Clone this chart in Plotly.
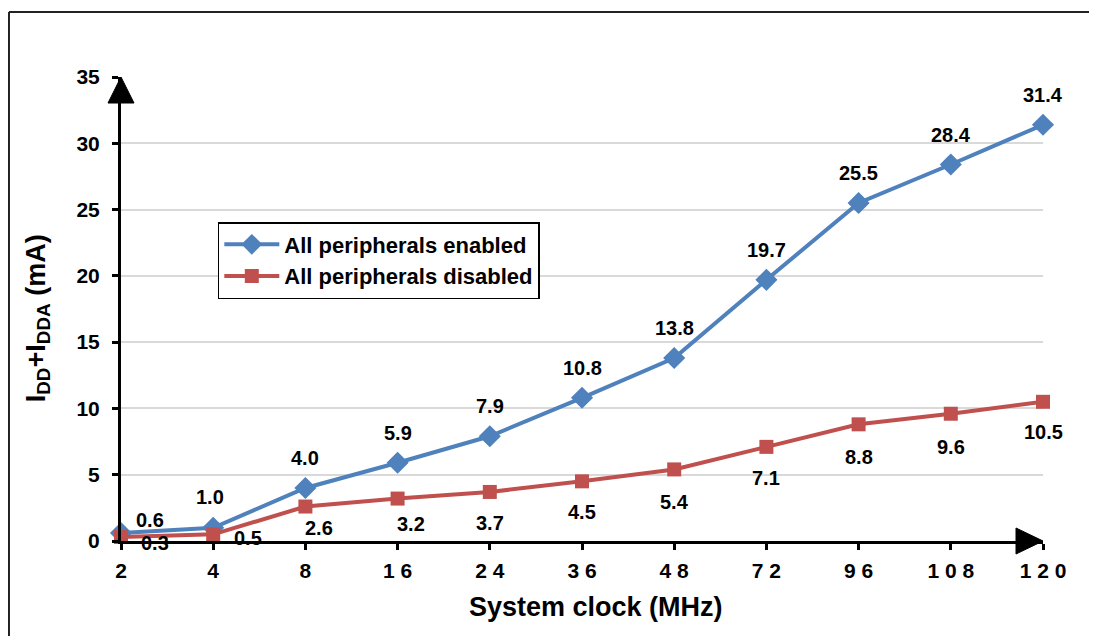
import plotly.graph_objects as go

# ---- data ----
categories = ["2", "4", "8", "16", "24", "36", "48", "72", "96", "108", "120"]
tick_labels = ["2", "4", "8", "1 6", "2 4", "3 6", "4 8", "7 2", "9 6", "1 0 8", "1 2 0"]
enabled = [0.6, 1.0, 4.0, 5.9, 7.9, 10.8, 13.8, 19.7, 25.5, 28.4, 31.4]
disabled = [0.3, 0.5, 2.6, 3.2, 3.7, 4.5, 5.4, 7.1, 8.8, 9.6, 10.5]
series_names = ["All peripherals enabled", "All peripherals disabled"]
y_ticks = [0, 5, 10, 15, 20, 25, 30, 35]

# label offsets (pixels) – style only
en_shift = [(29, 13), (-3, 31)] + [(0, 30)] * 9
dis_shift = [(34, -6), (35, -4), (14, -21), (13, -25), (0, -31), (0, -31),
             (0, -33), (0, -31), (0, -33), (0, -33), (0, -30)]

BLUE = "#4F81BD"
RED = "#C0504D"
FONT = "Liberation Sans, Arial, sans-serif"

fig = go.Figure()
fig.add_trace(go.Scatter(
    x=categories, y=enabled, name=series_names[0], mode="lines+markers",
    line=dict(color=BLUE, width=4),
    marker=dict(symbol="diamond", size=17, color=BLUE),
    cliponaxis=False))
fig.add_trace(go.Scatter(
    x=categories, y=disabled, name=series_names[1], mode="lines+markers",
    line=dict(color=RED, width=4),
    marker=dict(symbol="square", size=14, color=RED),
    cliponaxis=False))

lab_font = dict(family=FONT, size=20, color="black", weight="bold")
annotations = []
for i, (v, (dx, dy)) in enumerate(zip(enabled, en_shift)):
    annotations.append(dict(x=i, y=v, text=f"{v:.1f}", showarrow=False,
                            xshift=dx, yshift=dy, font=lab_font))
for i, (v, (dx, dy)) in enumerate(zip(disabled, dis_shift)):
    annotations.append(dict(x=i, y=v, text=f"{v:.1f}", showarrow=False,
                            xshift=dx, yshift=dy, font=lab_font))

# axis titles
annotations.append(dict(xref="paper", yref="paper", x=0.515, y=-0.142,
                        xanchor="center", yanchor="middle", showarrow=False,
                        text="System clock (MHz)",
                        font=dict(family=FONT, size=27, color="black", weight="bold")))
annotations.append(dict(xref="paper", yref="paper", x=-0.09, y=0.48,
                        xanchor="center", yanchor="middle", showarrow=False,
                        textangle=-90,
                        text="I<sub>DD</sub>+I<sub>DDA</sub> (mA)",
                        font=dict(family=FONT, size=27, color="black", weight="bold")))

shapes = [
    # outer frame (left and top edges)
    dict(type="line", xref="paper", yref="paper", x0=-0.1215, x1=-0.1215,
         y0=-0.3, y1=1.1401, line=dict(color="#222222", width=2), layer="below"),
    dict(type="line", xref="paper", yref="paper", x0=-0.1215, x1=1.1,
         y0=1.1401, y1=1.1401, line=dict(color="#222222", width=2), layer="below"),
    # y-axis arrowhead
    dict(type="path", xref="paper", yref="paper", xsizemode="pixel", ysizemode="pixel",
         xanchor=0, yanchor=1, path="M 0 0 L -13 -26 L 13 -26 Z",
         fillcolor="black", line=dict(color="black", width=1)),
    # x-axis arrowhead
    dict(type="path", xref="paper", yref="paper", xsizemode="pixel", ysizemode="pixel",
         xanchor=1, yanchor=0, path="M 0 0 L -27 13 L -27 -13 Z",
         fillcolor="black", line=dict(color="black", width=1)),
]

fig.update_layout(
    width=1081, height=628,
    margin=dict(l=113, r=46, t=69, b=95),
    paper_bgcolor="white", plot_bgcolor="white",
    font=dict(family=FONT, color="black"),
    showlegend=True,
    legend=dict(x=0.105, y=0.6875, xanchor="left", yanchor="top",
                bordercolor="black", borderwidth=1.5, bgcolor="white",
                font=dict(family=FONT, size=22, color="black", weight="bold"),
                itemwidth=55, tracegroupgap=0),
    annotations=annotations,
    shapes=shapes,
)
tick_font = dict(family=FONT, size=21, color="black", weight="bold")
fig.update_xaxes(type="category", categoryorder="array", categoryarray=categories,
                 tickvals=categories, ticktext=tick_labels,
                 range=[0, len(categories) - 1],
                 showline=True, linecolor="black", linewidth=3,
                 ticks="outside", ticklen=6, tickwidth=2.5, tickcolor="black",
                 tickfont=tick_font,
                 ticklabelstandoff=3, showgrid=False, zeroline=False)
fig.update_yaxes(range=[0, 35], tickvals=y_ticks,
                 showline=True, linecolor="black", linewidth=3,
                 ticks="outside", ticklen=6, tickwidth=2.5, tickcolor="black",
                 tickfont=tick_font,
                 ticklabelstandoff=8,
                 showgrid=True, gridcolor="#D9D9D9", gridwidth=2, zeroline=False)

fig.write_html("out.html")
